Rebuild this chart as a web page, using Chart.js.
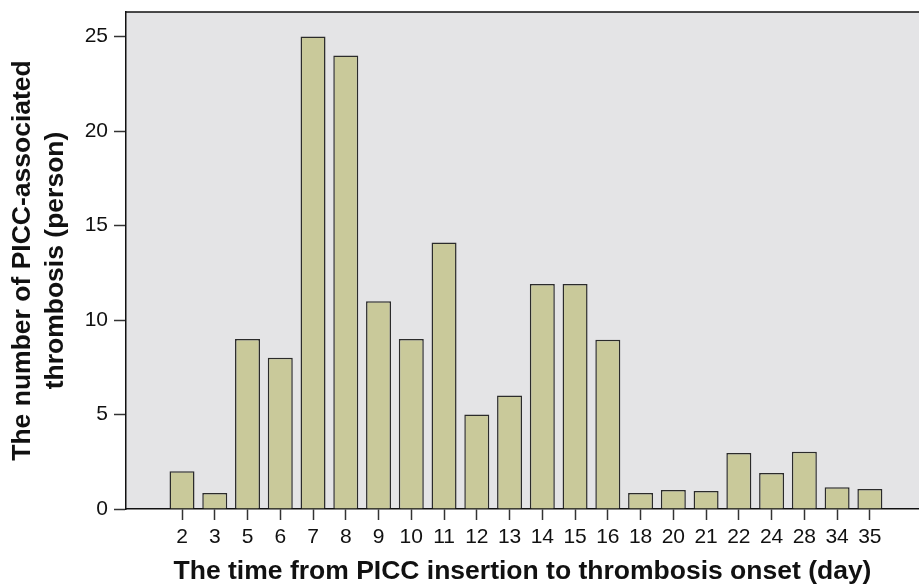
<!DOCTYPE html>
<html>
<head>
<meta charset="utf-8">
<script src="https://cdn.jsdelivr.net/npm/chart.js@4.4.1/dist/chart.umd.min.js"></script>
<style>
  html, body { margin: 0; padding: 0; background: #fff; }
  #wrap { width: 919px; height: 585px; position: relative; }
</style>
</head>
<body>
<div id="wrap"><canvas id="chart"></canvas></div>
<script>
// days from PICC insertion to thrombosis onset
const days = ["2", "3", "5", "6", "7", "8", "9", "10", "11", "12", "13", "14", "15", "16", "18", "20", "21", "22", "24", "28", "34", "35"];
// number of patients
const counts = [2, 0.85, 9, 8, 25, 24, 11, 9, 14.1, 5, 6, 11.9, 11.9, 8.95, 0.85, 1, 0.95, 2.96, 1.9, 3.03, 1.15, 1.06];
const yTicks = [0, 5, 10, 15, 20, 25];

const fontColor = "#111";
const family = "Liberation Sans, Arial, sans-serif";

// grey plot background plus the top frame line
const plotFrame = {
  id: "plotFrame",
  beforeDraw(chart) {
    const { ctx, chartArea: a } = chart;
    ctx.save();
    ctx.fillStyle = "#e4e4e6";
    ctx.fillRect(a.left, a.top, a.right - a.left, a.bottom - a.top);
    ctx.strokeStyle = "#111";
    ctx.lineWidth = 1.5;
    ctx.beginPath();
    ctx.moveTo(a.left, a.top);
    ctx.lineTo(a.right, a.top);
    ctx.stroke();
    ctx.restore();
  },
};

new Chart(document.getElementById("chart"), {
  type: "bar",
  data: {
    datasets: [
      {
        data: counts.map((v, i) => ({ x: i, y: v })),
        backgroundColor: "#c9c99a",
        borderColor: "#2b2b2b",
        borderWidth: 1.5,
        barPercentage: 0.763,
        categoryPercentage: 1,
      },
    ],
  },
  options: {
    responsive: true,
    maintainAspectRatio: false,
    animation: false,
    layout: { padding: { top: 12, left: 0, right: 0, bottom: 0 } },
    plugins: {
      legend: { display: false },
      tooltip: { enabled: false },
    },
    scales: {
      x: {
        type: "linear",
        offset: false,
        min: -1.71,
        max: 22.5,
        afterBuildTicks: (scale) => {
          scale.ticks = days.map((d, i) => ({ value: i }));
        },
        afterFit: (scale) => {
          scale.height = 76;
        },
        ticks: {
          autoSkip: false,
          maxRotation: 0,
          padding: 5,
          color: fontColor,
          font: { family: family, size: 21 },
          callback: (value) => days[value],
        },
        grid: {
          offset: false,
          drawOnChartArea: false,
          drawTicks: true,
          tickLength: 11,
          tickColor: "#333",
          tickWidth: 1.5,
        },
        border: { color: "#111", width: 1.5 },
        title: {
          display: true,
          text: "The time from PICC insertion to thrombosis onset (day)",
          color: fontColor,
          font: { family: family, size: 26.5, weight: "bold", lineHeight: 1.0 },
          padding: { top: 0, bottom: 0 },
        },
      },
      y: {
        min: 0,
        max: 26.3,
        afterBuildTicks: (scale) => {
          scale.ticks = yTicks.map((v) => ({ value: v }));
        },
        afterFit: (scale) => {
          scale.width = 126;
          scale.paddingTop = 0;
          scale.paddingBottom = 0;
        },
        ticks: {
          padding: 6,
          color: fontColor,
          font: { family: family, size: 21 },
        },
        grid: {
          drawOnChartArea: false,
          drawTicks: true,
          tickLength: 12,
          tickColor: "#333",
          tickWidth: 1.5,
        },
        border: { color: "#111", width: 1.5 },
        title: {
          display: true,
          text: ["The number of PICC-associated", "thrombosis (person)"],
          color: fontColor,
          font: { family: family, size: 26.5, weight: "bold", lineHeight: 1.22 },
          padding: { top: 7, bottom: 0 },
        },
      },
    },
  },
  plugins: [plotFrame],
});
</script>
</body>
</html>
